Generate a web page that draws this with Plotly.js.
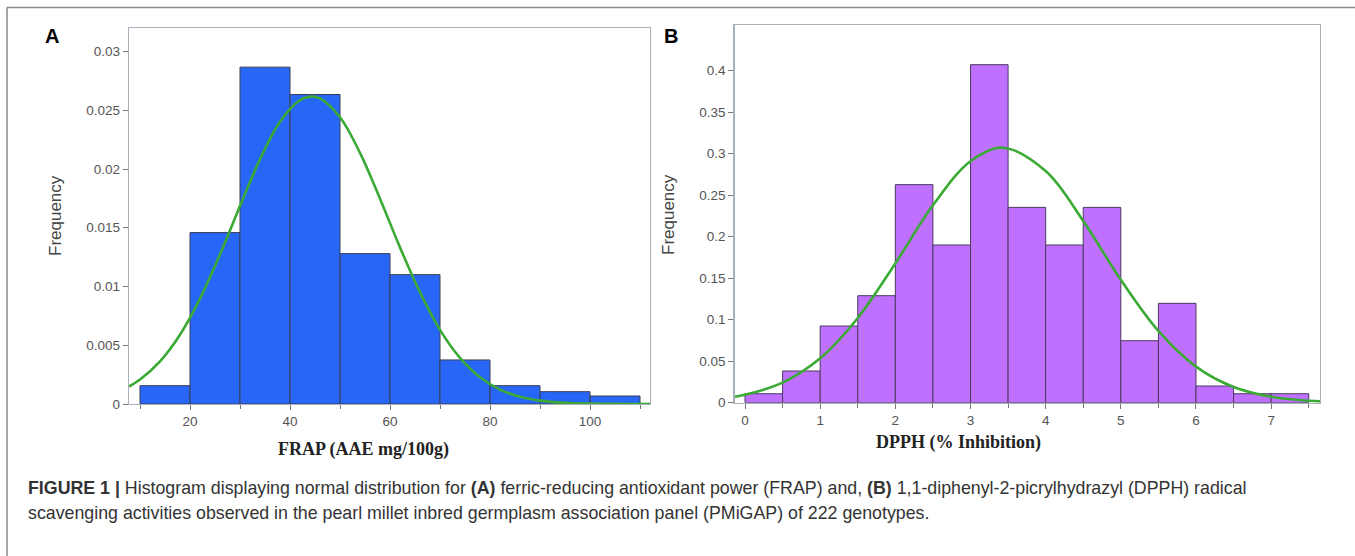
<!DOCTYPE html>
<html>
<head>
<meta charset="utf-8">
<script src="https://cdn.plot.ly/plotly-3.0.1.min.js"></script>
<style>
  html, body { margin: 0; padding: 0; background: #ffffff; }
  #chart { width: 1355px; height: 556px; }
</style>
</head>
<body>
<div id="chart"></div>
<script>
// ---------- Panel A: FRAP (AAE mg/100g) ----------
const frapBinStart = [10, 20, 30, 40, 50, 60, 70, 80, 90, 100];
const frapBinWidth = 10;
const frapFrequency = [0.00156, 0.01459, 0.02867, 0.02634, 0.0128, 0.01101, 0.00375, 0.00156, 0.00105, 0.00068];
// fitted normal curve
const frapCurveX = [7.8, 10, 14, 18, 22, 26, 30, 34, 38, 42, 44.3, 46, 50, 54, 58, 62, 66, 70, 74, 78, 82, 86, 90, 95, 100, 105, 112];
const frapCurveY = [0.00149, 0.00208, 0.00363, 0.0059, 0.00897, 0.01273, 0.01685, 0.02083, 0.02403, 0.02587, 0.02617, 0.02601, 0.0244, 0.02137, 0.01747, 0.01333, 0.0095, 0.00631, 0.00392, 0.00227, 0.00123, 0.00062, 0.00029, 0.0001, 0.00003, 0.00001, 0.0];
const frapXTicks = [20, 40, 60, 80, 100];
const frapYTicks = [0, 0.005, 0.01, 0.015, 0.02, 0.025, 0.03];

// ---------- Panel B: DPPH (% Inhibition) ----------
const dpphBinStart = [0, 0.5, 1, 1.5, 2, 2.5, 3, 3.5, 4, 4.5, 5, 5.5, 6, 6.5, 7];
const dpphBinWidth = 0.5;
const dpphFrequency = [0.0108, 0.0382, 0.0924, 0.1289, 0.2627, 0.190, 0.4072, 0.2353, 0.190, 0.2353, 0.0747, 0.1197, 0.0201, 0.0108, 0.0108];
const dpphCurveX = [-0.14, 0, 0.5, 1, 1.5, 2, 2.5, 3, 3.43, 4, 4.5, 5, 5.5, 6, 6.5, 7, 7.5, 7.65];
const dpphCurveY = [0.0071, 0.0095, 0.0242, 0.0535, 0.1021, 0.1678, 0.2378, 0.2909, 0.3072, 0.2791, 0.2189, 0.1481, 0.0865, 0.0435, 0.0189, 0.0071, 0.0023, 0.0016];
const dpphXTicks = [0, 1, 2, 3, 4, 5, 6, 7];
const dpphYTicks = [0, 0.05, 0.1, 0.15, 0.2, 0.25, 0.3, 0.35, 0.4];

// ---------- Text ----------
const panelLabels = ['A', 'B'];
const yTitle = 'Frequency';
const xTitleA = 'FRAP (AAE mg/100g)';
const xTitleB = 'DPPH (% Inhibition)';
const captionLine1 = '<b>FIGURE 1 |</b> Histogram displaying normal distribution for <b>(A)</b> ferric-reducing antioxidant power (FRAP) and, <b>(B)</b> 1,1-diphenyl-2-picrylhydrazyl (DPPH) radical';
const captionLine2 = 'scavenging activities observed in the pearl millet inbred germplasm association panel (PMiGAP) of 222 genotypes.';

const W = 1355, H = 556;
const px = v => v / W;
const py = v => 1 - v / H;

const centers = (starts, w) => starts.map(s => s + w / 2);

const traces = [
  {
    type: 'bar', x: centers(frapBinStart, frapBinWidth), y: frapFrequency,
    width: frapBinStart.map(() => frapBinWidth),
    marker: { color: '#2866F8', line: { color: '#3b3f55', width: 1 } },
    xaxis: 'x', yaxis: 'y'
  },
  {
    type: 'scatter', mode: 'lines', x: frapCurveX, y: frapCurveY,
    line: { color: '#3aaa35', width: 2.6, shape: 'spline', smoothing: 1 },
    xaxis: 'x', yaxis: 'y'
  },
  {
    type: 'bar', x: centers(dpphBinStart, dpphBinWidth), y: dpphFrequency,
    width: dpphBinStart.map(() => dpphBinWidth),
    marker: { color: '#C070FF', line: { color: '#4b3a5e', width: 1 } },
    xaxis: 'x2', yaxis: 'y2'
  },
  {
    type: 'scatter', mode: 'lines', x: dpphCurveX, y: dpphCurveY,
    line: { color: '#3aaa35', width: 2.6, shape: 'spline', smoothing: 1 },
    xaxis: 'x2', yaxis: 'y2'
  }
];

const tickFont = { family: 'Liberation Sans, Arial, sans-serif', size: 13.5, color: '#555555' };
const frameColor = '#a8b0ba';

const axisCommon = {
  showline: true, mirror: true, linecolor: frameColor, linewidth: 1.2,
  showgrid: false, zeroline: false,
  ticks: 'outside', ticklen: 5, tickcolor: '#777777', tickwidth: 1,
  tickfont: tickFont, tickmode: 'array'
};

const layout = {
  width: W, height: H,
  margin: { l: 0, r: 0, t: 0, b: 0 },
  paper_bgcolor: '#ffffff', plot_bgcolor: '#ffffff',
  showlegend: false, bargap: 0,
  xaxis: Object.assign({}, axisCommon, {
    domain: [px(129), px(650)], range: [7.8, 112], anchor: 'y',
    tickvals: frapXTicks,
    minor: { tickmode: 'linear', tick0: 0, dtick: 10, ticklen: 4, tickcolor: '#777777', ticks: 'outside' }
  }),
  yaxis: Object.assign({}, axisCommon, {
    domain: [py(404), py(28)], range: [0, 0.032], anchor: 'x',
    tickvals: frapYTicks
  }),
  xaxis2: Object.assign({}, axisCommon, {
    domain: [px(734.5), px(1320)], range: [-0.14, 7.65], anchor: 'y2',
    tickvals: dpphXTicks,
    minor: { tickmode: 'linear', tick0: 0, dtick: 0.5, ticklen: 4, tickcolor: '#777777', ticks: 'outside' }
  }),
  yaxis2: Object.assign({}, axisCommon, {
    domain: [py(402.7), py(25)], range: [0, 0.455], anchor: 'x2',
    tickvals: dpphYTicks
  }),
  shapes: [
    { type: 'line', xref: 'paper', yref: 'paper', x0: px(7), x1: 1, y0: py(7.5), y1: py(7.5),
      line: { color: '#8a8a8a', width: 1.5 } },
    { type: 'line', xref: 'paper', yref: 'paper', x0: px(7), x1: px(7), y0: py(7.5), y1: 0,
      line: { color: '#8a8a8a', width: 1.5 } }
  ],
  annotations: [
    { text: '<b>' + panelLabels[0] + '</b>', xref: 'paper', yref: 'paper', x: px(52), y: py(36), xanchor: 'center', yanchor: 'middle',
      showarrow: false, font: { family: 'Liberation Sans, Arial, sans-serif', size: 20, color: '#000000' } },
    { text: '<b>' + panelLabels[1] + '</b>', xref: 'paper', yref: 'paper', x: px(671), y: py(36), xanchor: 'center', yanchor: 'middle',
      showarrow: false, font: { family: 'Liberation Sans, Arial, sans-serif', size: 20, color: '#000000' } },
    { text: yTitle, xref: 'paper', yref: 'paper', x: px(55), y: py(216), xanchor: 'center', yanchor: 'middle', textangle: -90,
      showarrow: false, font: { family: 'Liberation Sans, Arial, sans-serif', size: 17, color: '#444444' } },
    { text: yTitle, xref: 'paper', yref: 'paper', x: px(668), y: py(215), xanchor: 'center', yanchor: 'middle', textangle: -90,
      showarrow: false, font: { family: 'Liberation Sans, Arial, sans-serif', size: 17, color: '#444444' } },
    { text: '<b>' + xTitleA + '</b>', xref: 'paper', yref: 'paper', x: px(363), y: py(449), xanchor: 'center', yanchor: 'middle',
      showarrow: false, font: { family: 'Liberation Serif, Times New Roman, serif', size: 18, color: '#222222' } },
    { text: '<b>' + xTitleB + '</b>', xref: 'paper', yref: 'paper', x: px(958), y: py(442), xanchor: 'center', yanchor: 'middle',
      showarrow: false, font: { family: 'Liberation Serif, Times New Roman, serif', size: 18, color: '#222222' } },
    { text: captionLine1, xref: 'paper', yref: 'paper', x: px(26), y: py(488), xanchor: 'left', yanchor: 'middle',
      showarrow: false, font: { family: 'Liberation Sans, Arial, sans-serif', size: 17.8, color: '#333333' } },
    { text: captionLine2, xref: 'paper', yref: 'paper', x: px(26), y: py(513), xanchor: 'left', yanchor: 'middle',
      showarrow: false, font: { family: 'Liberation Sans, Arial, sans-serif', size: 17.8, color: '#333333' } }
  ]
};

Plotly.newPlot('chart', traces, layout, { displayModeBar: false, staticPlot: true });
</script>
</body>
</html>
